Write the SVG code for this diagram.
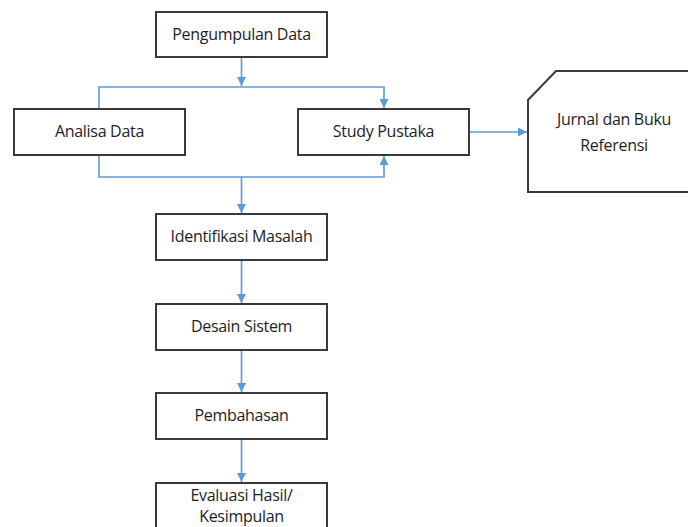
<svg xmlns="http://www.w3.org/2000/svg" width="688" height="527" viewBox="0 0 688 527">
<defs>
<style>
.box{fill:#fff;stroke:#3a3a3a;stroke-width:2}
.t{font-family:"Open Sans","Noto Sans","Liberation Sans",sans-serif;font-size:16px;fill:#1e1e1e;text-anchor:middle;letter-spacing:-0.3px}
.c{fill:none;stroke:#5b9bd5;stroke-width:1.6}
</style>
<marker id="ah" viewBox="0 0 10 10" refX="10" refY="5" markerWidth="9" markerHeight="9" markerUnits="userSpaceOnUse" orient="auto">
<path d="M0,0 L10,5 L0,10 z" fill="#5b9bd5"/>
</marker>
</defs>
<rect width="688" height="527" fill="#fff"/>
<g id="connectors">
<path class="c" d="M241.5,57 V86" marker-end="url(#ah)"/>
<path class="c" d="M99,109 V87 H384 V108" marker-end="url(#ah)"/>
<path class="c" d="M99,155 V177 H384 V156" marker-end="url(#ah)"/>
<path class="c" d="M241.5,177 V213" marker-end="url(#ah)"/>
<path class="c" d="M469,132 H527" marker-end="url(#ah)"/>
<path class="c" d="M241.5,260 V303" marker-end="url(#ah)"/>
<path class="c" d="M241.5,350 V392" marker-end="url(#ah)"/>
<path class="c" d="M241.5,439 V482" marker-end="url(#ah)"/>
</g>
<g id="pengumpulan">
<rect class="box" x="156" y="12" width="171" height="45"/>
<text class="t" x="241.5" y="40">Pengumpulan Data</text>
</g>
<g id="analisa">
<rect class="box" x="14" y="109" width="171" height="46"/>
<text class="t" x="99.5" y="137">Analisa Data</text>
</g>
<g id="study">
<rect class="box" x="298" y="109" width="171" height="46"/>
<text class="t" x="383.5" y="137">Study Pustaka</text>
</g>
<g id="jurnal">
<path class="box" d="M528,100 L556,71 H700 V192 H528 Z"/>
<text class="t" x="614" y="125">Jurnal dan Buku</text>
<text class="t" x="614" y="151">Referensi</text>
</g>
<g id="identifikasi">
<rect class="box" x="156" y="214" width="171" height="46"/>
<text class="t" x="241.5" y="242">Identifikasi Masalah</text>
</g>
<g id="desain">
<rect class="box" x="156" y="304" width="171" height="46"/>
<text class="t" x="241.5" y="332">Desain Sistem</text>
</g>
<g id="pembahasan">
<rect class="box" x="156" y="393" width="171" height="46"/>
<text class="t" x="241.5" y="421">Pembahasan</text>
</g>
<g id="evaluasi">
<rect class="box" x="156" y="483" width="171" height="60"/>
<text class="t" x="241.5" y="501">Evaluasi Hasil/</text>
<text class="t" x="241.5" y="522">Kesimpulan</text>
</g>
</svg>
